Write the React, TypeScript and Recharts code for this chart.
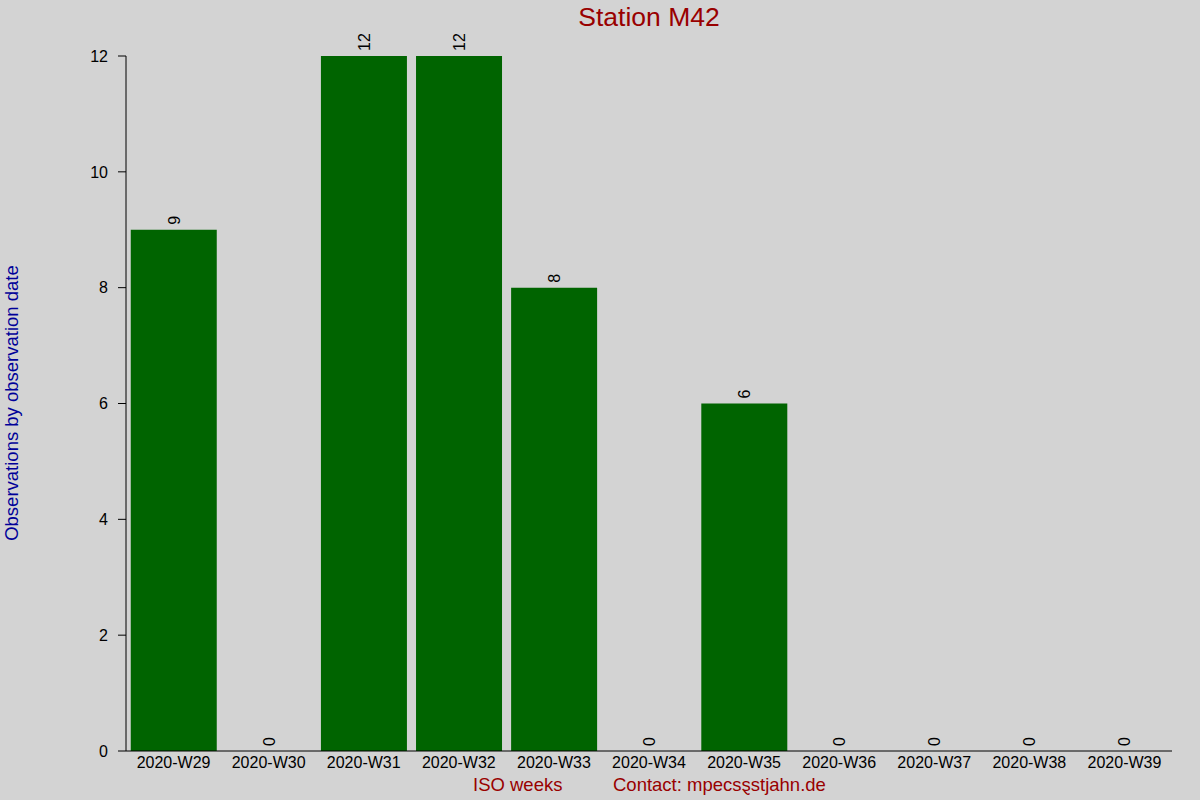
import { BarChart, Bar, Line, XAxis, YAxis, LabelList } from 'recharts'

const weeks = ['2020-W29', '2020-W30', '2020-W31', '2020-W32', '2020-W33', '2020-W34', '2020-W35', '2020-W36', '2020-W37', '2020-W38', '2020-W39']
const counts = [9, 0, 12, 12, 8, 0, 6, 0, 0, 0, 0]
const yTicks = [0, 2, 4, 6, 8, 10, 12]

const data = weeks.map((week, i) => ({ week, count: counts[i] }))

const font = 'Liberation Sans, Arial, sans-serif'

// rotated value labels, drawn from an invisible line so zero bars get one too
const renderValue = ({ x, y, value }: any) => {
  const cx = x + 6
  const cy = y - 5
  return (
    <text x={cx} y={cy} transform={`rotate(-90 ${cx} ${cy})`} textAnchor="start" fontSize={16} fill="#000" fontFamily={font}>
      {value}
    </text>
  )
}

export default function App() {
  return (
    <div style={{ position: 'fixed', top: 0, left: 0, width: 1200, height: 800, background: '#d3d3d3', fontFamily: font }}>
      <BarChart width={1200} height={800} data={data} margin={{ top: 56, right: 28, bottom: 0, left: 0 }} barCategoryGap="5%">
        <XAxis
          dataKey="week"
          height={49}
          tickLine={false}
          tickSize={0}
          tickMargin={6}
          stroke="#000"
          tick={{ fill: '#000', fontSize: 16, fontFamily: font }}
          interval={0}
        />
        <XAxis
          xAxisId="top"
          dataKey="week"
          orientation="top"
          height={0}
          axisLine={false}
          tick={{ fontSize: 0 }}
          tickSize={1}
          tickLine={{ stroke: '#000' }}
          interval={0}
        />
        <YAxis
          width={126}
          domain={[0, 12]}
          ticks={yTicks}
          tickSize={8}
          tickMargin={10}
          stroke="#000"
          tick={{ fill: '#000', fontSize: 16, fontFamily: font }}
        />
        <Bar dataKey="count" fill="#006400" isAnimationActive={false} />
        <Line dataKey="count" stroke="none" dot={false} activeDot={false} isAnimationActive={false}>
          <LabelList dataKey="count" content={renderValue} />
        </Line>
      </BarChart>
      <div style={{ position: 'absolute', top: 2, left: 126, width: 1046, textAlign: 'center', color: '#990000', fontSize: 26.5 }}>
        Station M42
      </div>
      <div
        style={{
          position: 'absolute', left: 12, top: 403, transform: 'translate(-50%, -50%) rotate(-90deg)',
          whiteSpace: 'nowrap', color: '#000099', fontSize: 18.5,
        }}
      >
        Observations by observation date
      </div>
      <div style={{ position: 'absolute', top: 774, left: 473, whiteSpace: 'nowrap', color: '#990000', fontSize: 18.5 }}>
        ISO weeks
      </div>
      <div style={{ position: 'absolute', top: 774, left: 613, whiteSpace: 'nowrap', color: '#990000', fontSize: 18.5 }}>
        Contact: mpecsȿstjahn.de
      </div>
    </div>
  )
}
